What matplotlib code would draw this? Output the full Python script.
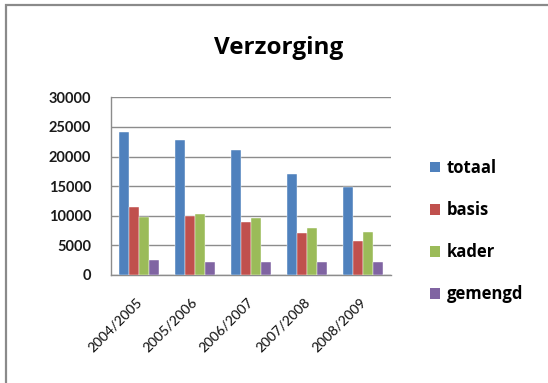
import numpy as np
import matplotlib.pyplot as plt
import matplotlib.transforms as mtransforms
from matplotlib.patches import Rectangle, Patch

plt.rcParams['font.family'] = ['Lato', 'DejaVu Sans']

# Schooljaren en aantallen leerlingen per leerweg
schooljaren = ["2004/2005", "2005/2006", "2006/2007", "2007/2008", "2008/2009"]
totaal = [24200, 22750, 21050, 17000, 14900]
basis = [11400, 9950, 8950, 7050, 5750]
kader = [9850, 10250, 9550, 7900, 7200]
gemengd = [2550, 2150, 2150, 2150, 2150]

reeksen = ["totaal", "basis", "kader", "gemengd"]
kleuren = ["#4F81BD", "#C0504D", "#9BBB59", "#8064A2"]

fig = plt.figure(figsize=(5.48, 3.83), dpi=100)
ax = fig.add_axes([0.202, 0.282, 0.511, 0.464])

x = np.arange(len(schooljaren))
breedte = 0.18
for i, (waarden, kleur) in enumerate(zip([totaal, basis, kader, gemengd], kleuren)):
    ax.bar(x + (i - 1.5) * breedte, waarden, breedte, color=kleur,
           edgecolor="white", linewidth=0.3, zorder=3)

ax.set_xlim(-0.5, len(schooljaren) - 0.5)
ax.set_ylim(0, 30000)
ax.set_yticks(range(0, 30001, 5000))
ax.set_yticklabels([str(v) for v in range(0, 30001, 5000)],
                   fontsize=10.5, fontweight="bold")
ax.set_xticks(x)
ax.set_xticklabels(schooljaren, rotation=45, ha="right", va="top",
                   fontsize=10, fontweight="medium")
ax.tick_params(axis="both", length=0, colors="#1A1A1A")
ax.tick_params(axis="y", pad=14)
ax.tick_params(axis="x", pad=15)

# labels iets naar rechts, zodat het einde onder het midden van de groep valt
verschuiving = mtransforms.ScaledTranslation(5 / 100, 0, fig.dpi_scale_trans)
for lbl in ax.get_xticklabels():
    lbl.set_transform(lbl.get_transform() + verschuiving)

ax.grid(axis="y", color="#8C8C8C", linewidth=1.0, zorder=0)
for side in ["top", "right"]:
    ax.spines[side].set_visible(False)
for side in ["left", "bottom"]:
    ax.spines[side].set_color("#8C8C8C")
    ax.spines[side].set_linewidth(1.0)

fig.text(279 / 548, 1 - 54.5 / 383, "Verzorging", ha="center", va="baseline",
         fontsize=17.5, fontweight="bold", family=["Open Sans", "DejaVu Sans"])

handles = [Patch(facecolor=k, edgecolor="none") for k in kleuren]
fig.legend(handles, reeksen, loc="upper left", bbox_to_anchor=(0.785, 0.585),
           frameon=False,
           prop={"size": 12, "weight": "bold", "family": ["Open Sans", "DejaVu Sans"]},
           handlelength=0.6, handleheight=0.6, handletextpad=0.4,
           labelspacing=1.45, borderpad=0, borderaxespad=0)

# grijze kaderlijn om de grafiek
fig.patches.append(Rectangle((6 / 548, -0.1), 1.2, 1.1 - 5 / 383,
                             transform=fig.transFigure, fill=False,
                             edgecolor="#8A8A8A", linewidth=1.6))

fig.savefig("out.png", dpi=100)
